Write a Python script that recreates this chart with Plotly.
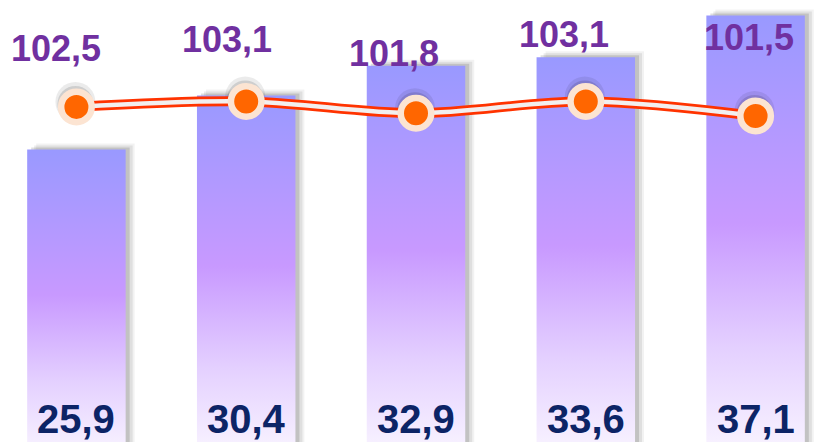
import plotly.graph_objects as go

# ---- data ----
bar_values = [25.9, 30.4, 32.9, 33.6, 37.1]
bar_labels = ["25,9", "30,4", "32,9", "33,6", "37,1"]
line_values = [102.5, 103.1, 101.8, 103.1, 101.5]
line_labels = ["102,5", "103,1", "101,8", "103,1", "101,5"]

# ---- layout / style settings ----
W, H = 832, 442
X_RANGE = [-0.45, 4.45]
Y_RANGE = [1.42, 38.4]
Y2_RANGE = [65.5, 114.3]
HALF = 0.29
label_dx = [-20, -19, -22, -22, -7]     # pixel nudges of line labels
label_dy = [58, 62, 60, 67, 78]

FONT = "Liberation Sans, Arial, sans-serif"
BAR_SCALE = [[0, "#FAF6FF"], [0.25, "#E4D0FF"], [0.53, "#C899FF"], [1, "#9999FF"]]

ux = (X_RANGE[1] - X_RANGE[0]) / W
uy = (Y_RANGE[1] - Y_RANGE[0]) / H
uy2 = (Y2_RANGE[1] - Y2_RANGE[0]) / H

xs = list(range(len(bar_values)))
fig = go.Figure()

# bar shadows
for i, v in zip(xs, bar_values):
    for (ox, oy), a in [((9, 6), 0.05), ((7, 4), 0.08), ((4, 2), 0.13)]:
        dx, dy = ox * ux, oy * uy
        fig.add_trace(go.Scatter(
            x=[i - HALF + dx, i + HALF + dx, i + HALF + dx, i - HALF + dx, i - HALF + dx],
            y=[0, 0, v + dy, v + dy, 0],
            mode="lines", fill="toself", fillcolor=f"rgba(0,0,0,{a})",
            line=dict(width=0), hoverinfo="skip", showlegend=False))

# bars with vertical gradient
for i, v in zip(xs, bar_values):
    fig.add_trace(go.Scatter(
        x=[i - HALF, i + HALF, i + HALF, i - HALF, i - HALF],
        y=[0, 0, v, v, 0],
        mode="lines", fill="toself",
        fillgradient=dict(type="vertical", colorscale=BAR_SCALE),
        line=dict(width=0), hoverinfo="skip", showlegend=False))

# marker shadows
fig.add_trace(go.Scatter(
    x=[i - 1 * ux for i in xs], y=[v + 5 * uy2 for v in line_values], yaxis="y2",
    mode="markers", marker=dict(size=40, color="rgba(0,0,0,0.08)"),
    hoverinfo="skip", showlegend=False))
fig.add_trace(go.Scatter(
    x=[i - 1 * ux for i in xs], y=[v + 3 * uy2 for v in line_values], yaxis="y2",
    mode="markers", marker=dict(size=36, color="rgba(0,0,0,0.12)"),
    hoverinfo="skip", showlegend=False))

# double line
fig.add_trace(go.Scatter(
    x=xs, y=line_values, yaxis="y2", mode="lines",
    line=dict(color="#FF3300", width=10, shape="spline"),
    hoverinfo="skip", showlegend=False))
fig.add_trace(go.Scatter(
    x=xs, y=line_values, yaxis="y2", mode="lines",
    line=dict(color="#F2EFEF", width=4.5, shape="spline"),
    hoverinfo="skip", showlegend=False))

# markers
fig.add_trace(go.Scatter(
    x=xs, y=line_values, yaxis="y2", mode="markers",
    marker=dict(size=30.5, color="#FF6600", line=dict(color="#FCE4D2", width=6.5)),
    hoverinfo="skip", showlegend=False))

annotations = []
for i, v, t, dx, dy in zip(xs, line_values, line_labels, label_dx, label_dy):
    annotations.append(dict(
        x=i, y=v, xref="x", yref="y2", text=f"<b>{t}</b>", showarrow=False,
        xshift=dx, yshift=dy, xanchor="center", yanchor="middle",
        font=dict(family=FONT, size=36, color="#7030A0")))
for i, t in zip(xs, bar_labels):
    annotations.append(dict(
        x=i, y=0.052, xref="x", yref="paper", text=f"<b>{t}</b>", showarrow=False,
        xanchor="center", yanchor="middle",
        font=dict(family=FONT, size=40, color="#0C2466")))

fig.update_layout(
    width=W, height=H, margin=dict(l=0, r=0, t=0, b=0),
    paper_bgcolor="white", plot_bgcolor="white", showlegend=False, hovermode=False,
    xaxis=dict(range=X_RANGE, visible=False, fixedrange=True),
    yaxis=dict(range=Y_RANGE, visible=False, fixedrange=True),
    yaxis2=dict(range=Y2_RANGE, overlaying="y", visible=False, fixedrange=True),
    annotations=annotations)

fig.write_html("out.html", config={"displayModeBar": False},
               post_script="document.body.style.margin='0';document.body.style.overflow='hidden';")
